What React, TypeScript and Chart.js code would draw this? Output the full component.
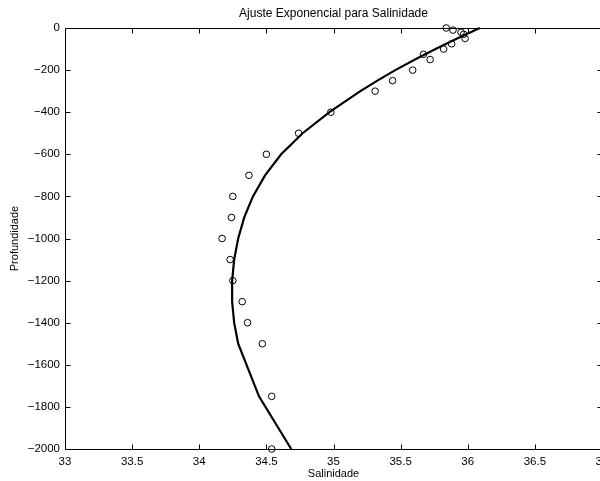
import React, { useEffect, useRef } from 'react';
import { Chart, registerables } from 'chart.js';

Chart.register(...registerables);

// Standard depths (m, negative downward)
const depths = [0, -10, -20, -30, -50, -75, -100, -125, -150, -200, -250, -300, -400, -500, -600, -700, -800, -900, -1000, -1100, -1200, -1300, -1400, -1500, -1750, -2000];
// Observed salinity at each depth (circles)
const salinityObserved = [35.84, 35.89, 35.95, 35.97, 35.98, 35.88, 35.82, 35.67, 35.72, 35.59, 35.44, 35.31, 34.98, 34.74, 34.50, 34.37, 34.25, 34.24, 34.17, 34.23, 34.25, 34.32, 34.36, 34.47, 34.54, 34.54];
// Exponential fit evaluated at each depth (line)
const salinityFit = [36.09, 36.056, 36.022, 35.988, 35.921, 35.84, 35.76, 35.683, 35.607, 35.46, 35.327, 35.2, 34.97, 34.77, 34.61, 34.49, 34.4, 34.335, 34.29, 34.26, 34.245, 34.245, 34.26, 34.29, 34.445, 34.685];

const xMin = 33;
const xMax = 37;
const xStep = 0.5;
const yMin = -2000;
const yMax = 0;
const yStep = 200;

const titleText = 'Ajuste Exponencial para Salinidade';
const xTitle = 'Salinidade';
const yTitle = 'Profundidade';

const FONT = "'Liberation Sans', Arial, Helvetica, sans-serif";

const framePlugin = {
  id: 'matlabFrame',
  beforeDatasetsDraw(chart: any) {
    const { ctx, chartArea: a, scales } = chart;
    const L = Math.round(a.left) + 0.5;
    const R = Math.round(a.right) + 0.5;
    const T = Math.round(a.top) + 0.5;
    const B = Math.round(a.bottom) + 0.5;
    const tl = 5;
    ctx.save();
    ctx.strokeStyle = '#000';
    ctx.lineWidth = 1;
    ctx.beginPath();
    ctx.rect(L, T, R - L, B - T);
    ctx.stroke();
    ctx.beginPath();
    for (const t of scales.x.ticks) {
      const px = Math.round(scales.x.getPixelForValue(t.value)) + 0.5;
      ctx.moveTo(px, B);
      ctx.lineTo(px, B - tl);
      ctx.moveTo(px, T);
      ctx.lineTo(px, T + tl);
    }
    for (const t of scales.y.ticks) {
      const py = Math.round(scales.y.getPixelForValue(t.value)) + 0.5;
      ctx.moveTo(L, py);
      ctx.lineTo(L + tl, py);
      ctx.moveTo(R, py);
      ctx.lineTo(R - tl, py);
    }
    ctx.stroke();
    ctx.restore();
  },
  afterDraw(chart: any) {
    const { ctx, chartArea: a } = chart;
    ctx.save();
    ctx.fillStyle = '#000';
    ctx.font = `12px ${FONT}`;
    ctx.textAlign = 'center';
    ctx.textBaseline = 'middle';
    ctx.fillText(titleText, (a.left + a.right) / 2, 14);
    ctx.restore();
  },
};

export default function App() {
  const ref = useRef<HTMLCanvasElement | null>(null);

  useEffect(() => {
    if (!ref.current) return;
    const observed = depths.map((d, i) => ({ x: salinityObserved[i], y: d }));
    const fit = depths.map((d, i) => ({ x: salinityFit[i], y: d }));
    const chart = new Chart(ref.current, {
      type: 'scatter',
      data: {
        datasets: [
          {
            label: 'Ajuste',
            data: fit,
            showLine: true,
            borderColor: '#000',
            borderWidth: 2.2,
            pointRadius: 0,
            tension: 0,
            fill: false,
            clip: false as any,
          },
          {
            label: 'Observado',
            data: observed,
            showLine: false,
            pointStyle: 'circle',
            pointRadius: 3.3,
            pointBorderWidth: 1,
            pointBorderColor: '#000',
            pointBackgroundColor: 'rgba(0,0,0,0)',
            borderColor: '#000',
            backgroundColor: 'rgba(0,0,0,0)',
            clip: false as any,
          },
        ],
      },
      options: {
        animation: false,
        responsive: false,
        maintainAspectRatio: false,
        layout: { padding: { left: 0, right: 18, top: 28, bottom: 0 } },
        plugins: {
          legend: { display: false },
          tooltip: { enabled: false },
          title: { display: false },
        },
        scales: {
          x: {
            type: 'linear',
            position: 'bottom',
            min: xMin,
            max: xMax,
            grid: { display: false, drawTicks: false },
            border: { display: false },
            ticks: {
              stepSize: xStep,
              autoSkip: false,
              maxRotation: 0,
              color: '#000',
              padding: 6,
              font: { family: FONT, size: 11.5 },
              callback: (v: any) => String(Number(v)),
            },
            title: {
              display: true,
              text: xTitle,
              color: '#000',
              font: { family: FONT, size: 11 },
              padding: { top: 0, bottom: 0 },
            },
            afterFit(scale: any) {
              scale.height = 32;
            },
          },
          y: {
            type: 'linear',
            min: yMin,
            max: yMax,
            grid: { display: false, drawTicks: false },
            border: { display: false },
            ticks: {
              stepSize: yStep,
              autoSkip: false,
              color: '#000',
              padding: 5,
              font: { family: FONT, size: 11.5 },
              callback: (v: any) => (Number(v) < 0 ? '\u2212' + Math.abs(Number(v)) : String(v)),
            },
            title: {
              display: true,
              text: yTitle,
              color: '#000',
              font: { family: FONT, size: 11 },
              padding: { top: 8.5, bottom: 0 },
            },
            afterFit(scale: any) {
              scale.width = 65;
            },
          },
        },
      },
      plugins: [framePlugin],
    });
    return () => chart.destroy();
  }, []);

  return (
    <div style={{ position: 'absolute', left: 0, top: 0, width: 600, height: 481, overflow: 'hidden', background: '#fff' }}>
      <canvas ref={ref} width={620} height={481} style={{ display: 'block', width: 620, height: 481 }} />
    </div>
  );
}
